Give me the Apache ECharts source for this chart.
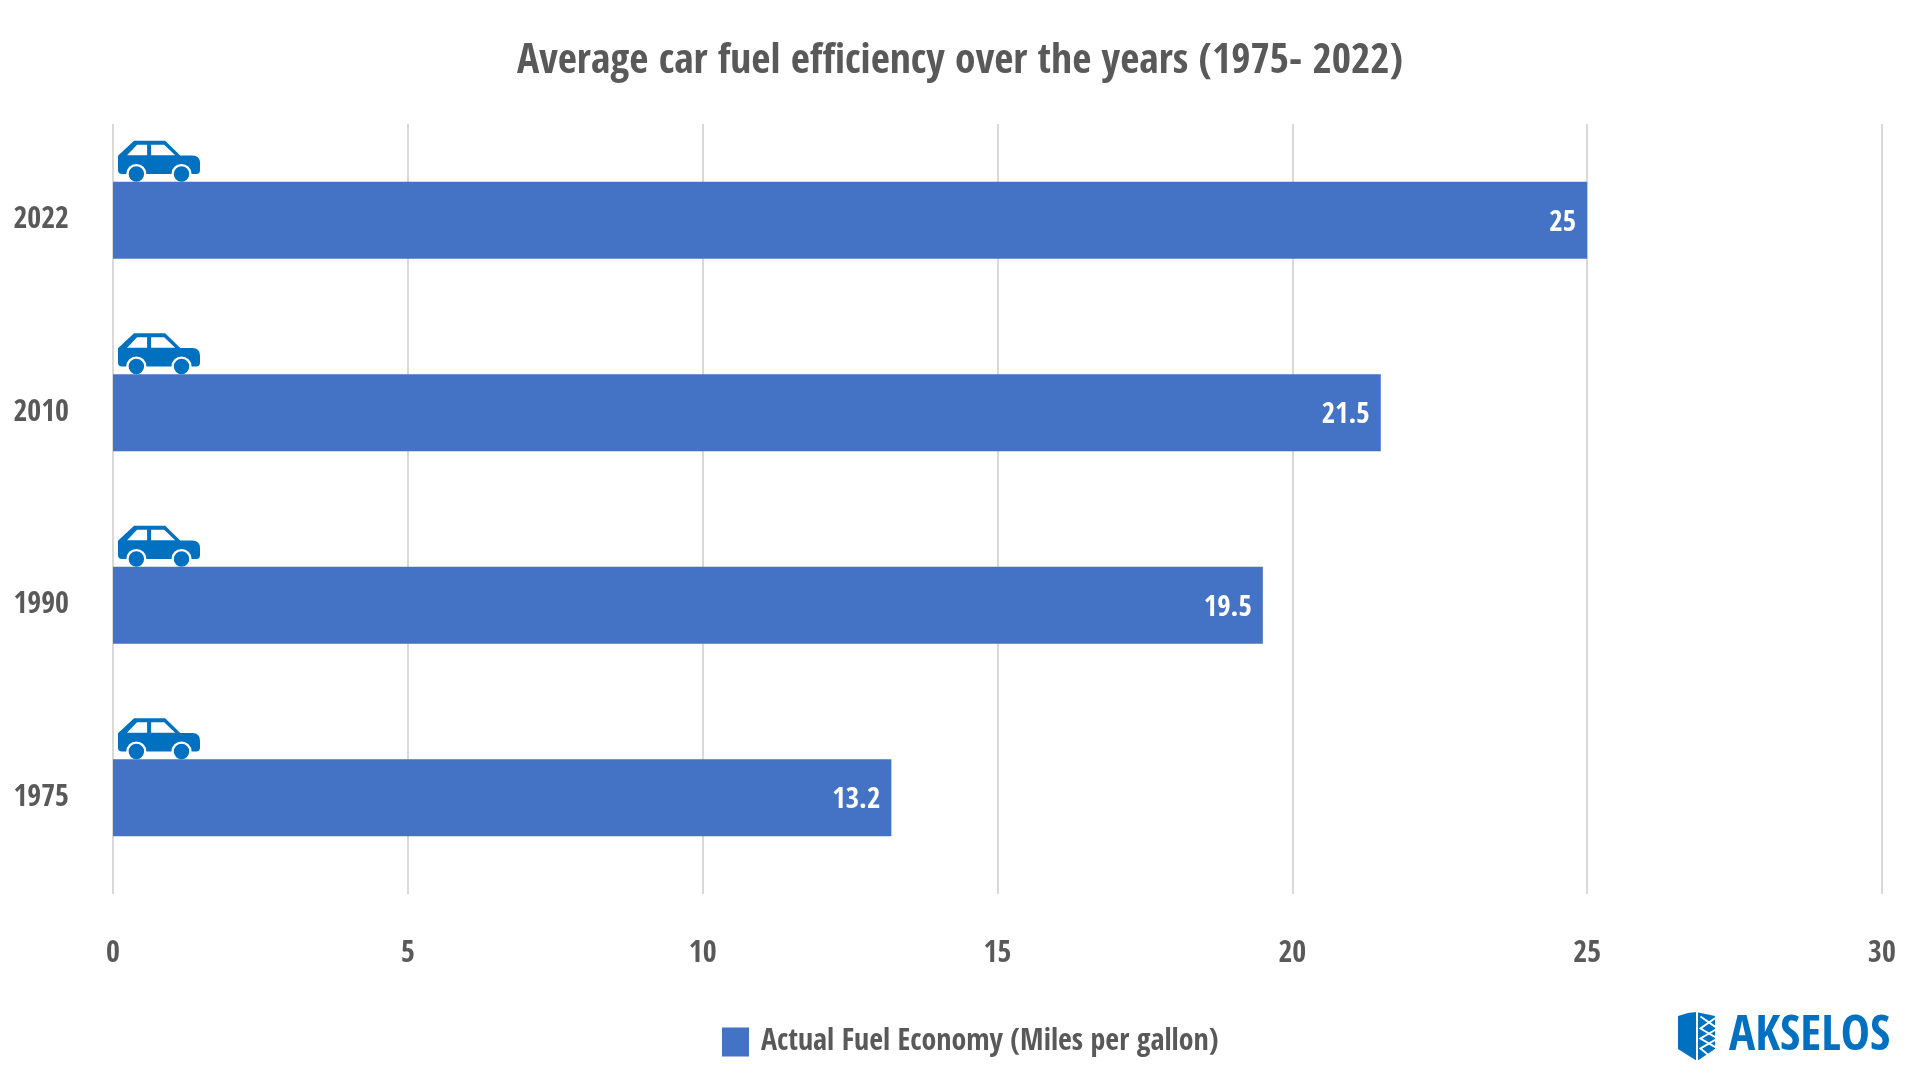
<!DOCTYPE html>
<html><head><meta charset="utf-8">
<style>html,body{margin:0;padding:0;background:#fff}#c{width:1920px;height:1080px}</style>
<script src="https://cdn.jsdelivr.net/npm/echarts@6/dist/echarts.min.js"></script>
</head><body><div id="c"></div>
<script>
const years = ['1975', '1990', '2010', '2022'];
const fuelEconomy = [13.2, 19.5, 21.5, 25];
const iconValue = [0.78, 0.78, 0.78, 0.78];
const seriesName = 'Actual Fuel Economy (Miles per gallon)';
const titleText = 'Average car fuel efficiency over the years (1975- 2022)';
const FONT = '"Open Sans Condensed", "Liberation Sans", sans-serif';
const GREY = '#595959', BLUE = '#4472C4', LOGO = '#0070C0';

const carPath = 'path://M16 0 L47 0 L62 14.7 L74 14.7 Q81.7 15 81.7 22 L81.7 29 Q81.7 33 78 33 L73.3 33 ' +
  'A10 10 0 0 0 53.3 33 L28.3 33 A10 10 0 0 0 8.3 33 L4 33 Q0 33 0 29 L0 15 Z ' +
  'M9 14.3 L29 14.3 L29 4 L19 4 Z M33 4 L33 14.3 L57 14.3 L46 4 Z ' +
  'M26 33 A7.7 7.7 0 1 1 10.6 33 A7.7 7.7 0 1 1 26 33 Z ' +
  'M71 33 A7.7 7.7 0 1 1 55.6 33 A7.7 7.7 0 1 1 71 33 Z';

const chart = echarts.init(document.getElementById('c'), null, {renderer: 'canvas'});
chart.setOption({
  animation: false,
  backgroundColor: '#fff',
  title: {
    text: titleText, left: 955, top: 36, textAlign: 'center',
    textStyle: {fontFamily: FONT, fontSize: 41.6, fontWeight: 'bold', color: GREY}
  },
  grid: {left: 113, right: 38, top: 124, bottom: 186, containLabel: false},
  legend: {
    left: 717, top: 1022, itemWidth: 27, itemHeight: 29, itemGap: 12,
    data: [seriesName],
    icon: 'rect',
    textStyle: {fontFamily: FONT, fontSize: 30, fontWeight: 'bold', color: GREY, padding: [0, 0, 0, 7]}
  },
  xAxis: {
    type: 'value', min: 0, max: 30, interval: 5,
    axisLine: {show: false}, axisTick: {show: false},
    axisLabel: {margin: 45, fontFamily: FONT, fontSize: 30, fontWeight: 'bold', color: GREY},
    splitLine: {show: true, lineStyle: {color: '#D9D9D9', width: 2}}
  },
  yAxis: {
    type: 'category', data: years,
    axisLine: {show: false}, axisTick: {show: false},
    axisLabel: {margin: 44, fontFamily: FONT, fontSize: 30, fontWeight: 'bold', color: GREY, padding: [0, 0, 8, 0]}
  },
  series: [
    {
      name: seriesName, type: 'bar', data: fuelEconomy, barWidth: '40%',
      itemStyle: {color: BLUE},
      label: {show: true, position: 'insideRight', distance: 11, offset: [0, 3], color: '#fff',
        fontFamily: FONT, fontSize: 29, fontWeight: 'bold'}
    },
    {
      name: 'car', type: 'scatter', data: iconValue.map((v, i) => [v, i]),
      symbol: carPath, symbolSize: [82, 41], symbolOffset: [0, -59],
      itemStyle: {color: LOGO, opacity: 1}, silent: true, z: 5
    }
  ],
  graphic: [
    {type: 'polygon', left: 1678, top: 1012, shape: {points: [[0, 4], [10, 1], [18, 0], [37, 4], [37, 37], [19, 49], [0, 37]]},
      style: {fill: LOGO}},
    {type: 'rect', left: 1696, top: 1010, shape: {width: 2, height: 52}, style: {fill: '#fff'}},
    {type: 'polyline', left: 1698, top: 1014, shape: {points: [[0, 0], [17, 12], [0, 22], [17, 32], [2, 44]]},
      style: {stroke: '#fff', lineWidth: 2, fill: 'none'}},
    {type: 'polyline', left: 1698, top: 1014, shape: {points: [[17, 0], [0, 12], [17, 22], [0, 32], [12, 42]]},
      style: {stroke: '#fff', lineWidth: 2, fill: 'none'}},
    {type: 'text', left: 1729, top: 1013, style: {text: 'AKSELOS', fill: LOGO,
      font: 'bold 49px "Open Sans Condensed", "Liberation Sans", sans-serif'}}
  ]
});
</script></body></html>
